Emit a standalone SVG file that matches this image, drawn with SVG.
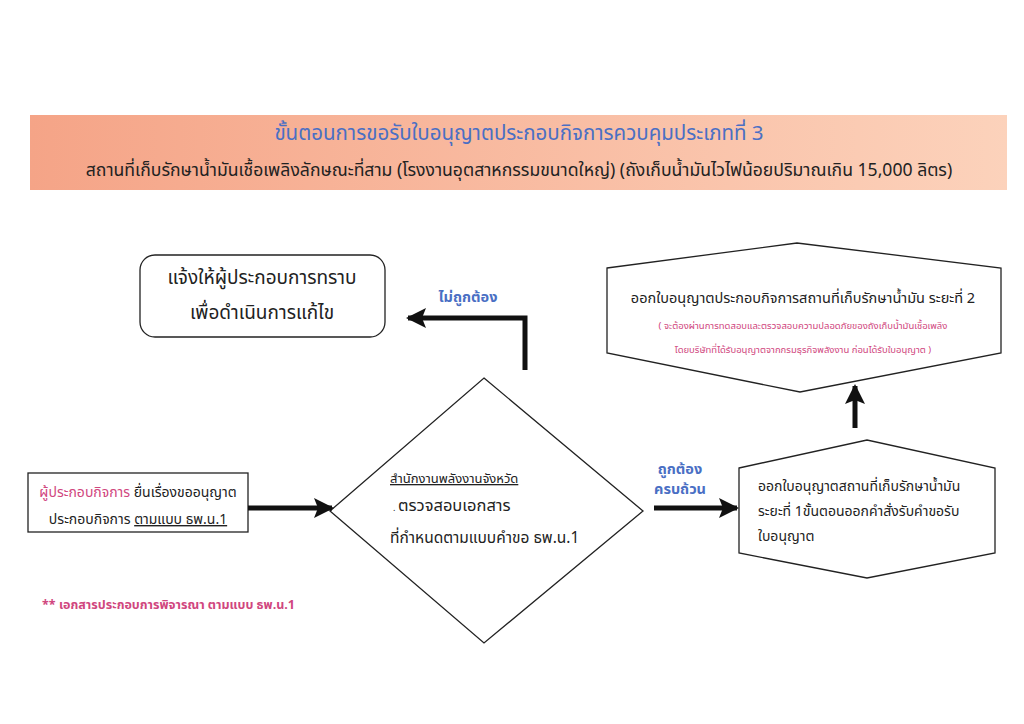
<svg xmlns="http://www.w3.org/2000/svg" width="1024" height="724" viewBox="0 0 1024 724">
<style>
text{font-family:"Noto Sans Thai","Noto Sans","DejaVu Sans",sans-serif;fill:#222}
.blue{fill:#4a6fc4}
.pink{fill:#d0467e}
.b{font-weight:bold}
.shape{fill:#fff;stroke:#222;stroke-width:1.3}
.conn{fill:none;stroke:#111;stroke-width:5}
</style>
<defs>
<linearGradient id="tg" x1="0" y1="0" x2="1" y2="0">
<stop offset="0" stop-color="#f5a487"/>
<stop offset="1" stop-color="#fcd2bb"/>
</linearGradient>
<marker id="ah" viewBox="0 0 10 10" refX="9" refY="5" markerWidth="4.4" markerHeight="4" orient="auto" markerUnits="strokeWidth">
<path d="M0,0 L10,5 L0,10 L2,5 z" fill="#111"/>
</marker>
</defs>
<rect width="1024" height="724" fill="#fff"/>
<g id="title">
<rect x="30" y="115" width="977" height="75" fill="url(#tg)"/>
<text x="519" y="140" text-anchor="middle" font-size="20.5" class="blue">ขั้นตอนการขอรับใบอนุญาตประกอบกิจการควบคุมประเภทที่ 3</text>
<text x="519" y="176" text-anchor="middle" font-size="17.6">สถานที่เก็บรักษาน้ำมันเชื้อเพลิงลักษณะที่สาม (โรงงานอุตสาหกรรมขนาดใหญ่) (ถังเก็บน้ำมันไวไฟน้อยปริมาณเกิน 15,000 ลิตร)</text>
</g>
<g id="notify">
<rect x="140" y="255" width="245" height="82" rx="15" class="shape"/>
<text x="262" y="284" text-anchor="middle" font-size="19">แจ้งให้ผู้ประกอบการทราบ</text>
<text x="262" y="319" text-anchor="middle" font-size="19">เพื่อดำเนินการแก้ไข</text>
</g>
<g id="stage2">
<polygon points="607,268 797,243 1001,268 1001,353 800,392 607,353" class="shape"/>
<text x="803" y="303" text-anchor="middle" font-size="14.5">ออกใบอนุญาตประกอบกิจการสถานที่เก็บรักษาน้ำมัน ระยะที่ 2</text>
<text x="803" y="329" text-anchor="middle" font-size="9.5" class="pink">( จะต้องผ่านการทดสอบและตรวจสอบความปลอดภัยของถังเก็บน้ำมันเชื้อเพลิง</text>
<text x="803" y="353" text-anchor="middle" font-size="9.5" class="pink">โดยบริษัทที่ได้รับอนุญาตจากกรมธุรกิจพลังงาน ก่อนได้รับใบอนุญาต )</text>
</g>
<g id="applicant">
<rect x="28" y="473" width="220" height="59" class="shape"/>
<text x="138" y="497" text-anchor="middle" font-size="14"><tspan class="pink">ผู้ประกอบกิจการ</tspan> ยื่นเรื่องขออนุญาต</text>
<text x="138" y="524" text-anchor="middle" font-size="14">ประกอบกิจการ <tspan text-decoration="underline">ตามแบบ ธพ.น.1</tspan></text>
</g>
<g id="check">
<polygon points="484,378 643,511 484,643 330,511" class="shape"/>
<text x="390" y="483" font-size="13" text-decoration="underline">สำนักงานพลังงานจังหวัด</text>
<text x="393" y="511" font-size="9" fill="#999">.</text>
<text x="398" y="511" font-size="16.5">ตรวจสอบเอกสาร</text>
<text x="390" y="543" font-size="15.5">ที่กำหนดตามแบบคำขอ ธพ.น.1</text>
</g>
<g id="stage1">
<polygon points="739,468 867,440 995,468 995,553 867,578 739,553" class="shape"/>
<text x="758" y="491" font-size="14">ออกใบอนุญาตสถานที่เก็บรักษาน้ำมัน</text>
<text x="758" y="516" font-size="14">ระยะที่ 1ขั้นตอนออกคำสั่งรับคำขอรับ</text>
<text x="758" y="541" font-size="14">ใบอนุญาต</text>
</g>
<g id="connectors">
<polyline points="525,370 525,318 408,318" class="conn" marker-end="url(#ah)"/>
<line x1="855" y1="428" x2="855" y2="386" class="conn" marker-end="url(#ah)"/>
<line x1="248" y1="508" x2="332" y2="508" class="conn" marker-end="url(#ah)"/>
<line x1="654" y1="508" x2="737" y2="508" class="conn" marker-end="url(#ah)"/>
<text x="468" y="302" text-anchor="middle" font-size="14.5" class="blue b">ไม่ถูกต้อง</text>
<text x="680" y="474" text-anchor="middle" font-size="14.5" class="blue b">ถูกต้อง</text>
<text x="680" y="494" text-anchor="middle" font-size="14.5" class="blue b">ครบถ้วน</text>
</g>
<text x="42" y="609" font-size="12.5" class="pink b">** เอกสารประกอบการพิจารณา ตามแบบ ธพ.น.1</text>
</svg>
